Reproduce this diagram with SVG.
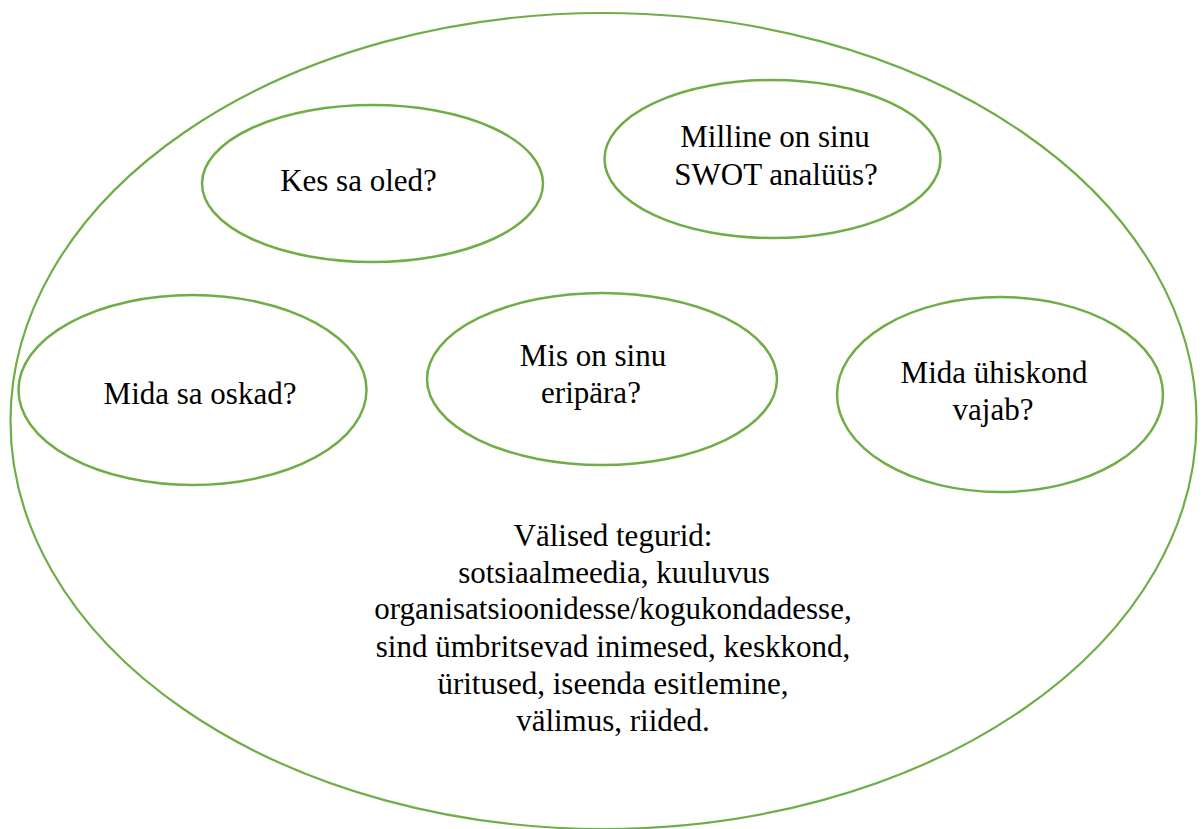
<svg xmlns="http://www.w3.org/2000/svg" width="1203" height="829" viewBox="0 0 1203 829">
<style>
.e{fill:none;stroke:#70AD47;stroke-width:2.5}
.o{fill:none;stroke:#70AD47;stroke-width:2.2}
</style>
<rect width="1203" height="829" fill="#fff"/>
<g id="outer">
<ellipse class="o" cx="603.5" cy="421" rx="593" ry="408"/>
<text x="613" y="546" font-family="Liberation Serif" font-size="31" text-anchor="middle">Välised tegurid:</text>
<text x="614" y="583" font-family="Liberation Serif" font-size="31" text-anchor="middle">sotsiaalmeedia, kuuluvus</text>
<text x="613" y="619" font-family="Liberation Serif" font-size="31" text-anchor="middle">organisatsioonidesse/kogukondadesse,</text>
<text x="613" y="657" font-family="Liberation Serif" font-size="31" text-anchor="middle">sind ümbritsevad inimesed, keskkond,</text>
<text x="613" y="694" font-family="Liberation Serif" font-size="31" text-anchor="middle">üritused, iseenda esitlemine,</text>
<text x="613" y="731" font-family="Liberation Serif" font-size="31" text-anchor="middle">välimus, riided.</text>
</g>
<g id="kes">
<ellipse class="e" cx="372.5" cy="183.5" rx="170.5" ry="78.5"/>
<text x="358.5" y="191" font-family="Liberation Serif" font-size="31" text-anchor="middle">Kes sa oled?</text>
</g>
<g id="swot">
<ellipse class="e" cx="772.5" cy="159" rx="168" ry="79"/>
<text x="775" y="147" font-family="Liberation Serif" font-size="31" text-anchor="middle">Milline on sinu</text>
<text x="776" y="185" font-family="Liberation Serif" font-size="31" text-anchor="middle">SWOT analüüs?</text>
</g>
<g id="oskad">
<ellipse class="e" cx="192.5" cy="390" rx="174" ry="95"/>
<text x="200" y="404" font-family="Liberation Serif" font-size="31" text-anchor="middle">Mida sa oskad?</text>
</g>
<g id="eripara">
<ellipse class="e" cx="602" cy="379" rx="175" ry="86"/>
<text x="593" y="366" font-family="Liberation Serif" font-size="31" text-anchor="middle">Mis on sinu</text>
<text x="591" y="403" font-family="Liberation Serif" font-size="31" text-anchor="middle">eripära?</text>
</g>
<g id="uhiskond">
<ellipse class="e" cx="1000" cy="394.5" rx="163" ry="97.5"/>
<text x="994" y="383" font-family="Liberation Serif" font-size="31" text-anchor="middle">Mida ühiskond</text>
<text x="993" y="420" font-family="Liberation Serif" font-size="31" text-anchor="middle">vajab?</text>
</g>
</svg>
